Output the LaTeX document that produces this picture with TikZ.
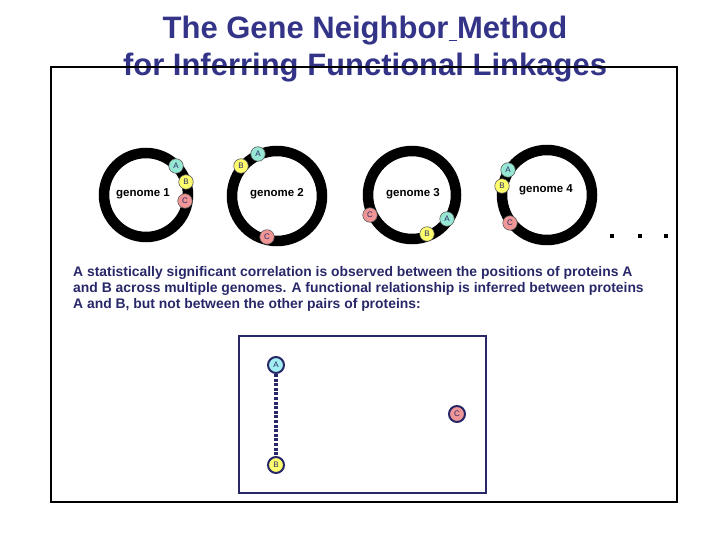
\documentclass[tikz,border=0pt]{standalone}
\usepackage{fontspec}
\setmainfont{Liberation Sans}
\definecolor{titre}{RGB}{51,51,136}
\definecolor{texte}{RGB}{40,40,105}
\definecolor{protA}{RGB}{150,232,212}
\definecolor{protAbis}{RGB}{160,238,240}
\definecolor{protB}{RGB}{255,255,110}
\definecolor{protC}{RGB}{240,150,150}
\begin{document}
\begin{tikzpicture}[x=1pt, y=-1pt,
    anneau/.style={draw, line width=10.5pt},
    genome/.style={font=\bfseries\fontsize{11.5}{12}\selectfont},
    gene/.style={circle, draw=black!65, line width=0.6pt, minimum size=14.5pt, inner sep=0pt,
                 font=\fontsize{8}{8}\selectfont, text=texte},
    lien/.style={circle, draw=texte, line width=2pt, minimum size=16pt, inner sep=0pt,
                 font=\fontsize{8}{8}\selectfont, text=texte}
]
    \useasboundingbox (0,0) rectangle (720,540);

    \node[font=\bfseries\fontsize{31}{31}\selectfont, text=titre, anchor=base] (titre1) at (365,39)
        {The Gene Neighbor\underline{\ }Method};
    \node[font=\bfseries\fontsize{31}{31}\selectfont, text=titre, anchor=base] (titre2) at (365,76)
        {for Inferring Functional Linkages};
    \draw[line width=2.5pt] (51,67) rectangle (677,502);

    % genomes circulaires
    \draw[anneau] (146,195) circle[radius=42pt];
    \draw[anneau] (277,196) circle[radius=45pt];
    \draw[anneau] (412,195) circle[radius=44pt];
    \draw[anneau] (547,195) circle[radius=45pt];
    \node[genome] (g1) at (143,194) {genome 1};
    \node[genome] (g2) at (277,194) {genome 2};
    \node[genome] (g3) at (413,194) {genome 3};
    \node[genome] (g4) at (546,190) {genome 4};

    \node[gene, fill=protA] (a1) at (176,166) {A};
    \node[gene, fill=protB] (b1) at (186,182) {B};
    \node[gene, fill=protC] (c1) at (185,201) {C};
    \node[gene, fill=protA] (a2) at (258,154) {A};
    \node[gene, fill=protB] (b2) at (241,166) {B};
    \node[gene, fill=protC] (c2) at (267,237) {C};
    \node[gene, fill=protA] (a3) at (447,219) {A};
    \node[gene, fill=protB] (b3) at (427,234) {B};
    \node[gene, fill=protC] (c3) at (370,215) {C};
    \node[gene, fill=protA] (a4) at (508,170) {A};
    \node[gene, fill=protB] (b4) at (502,186) {B};
    \node[gene, fill=protC] (c4) at (510,223) {C};

    \foreach \x in {612,640,666}
        \fill (\x-2,233.5) rectangle (\x+2,237.5);

    \node[anchor=north west, align=left, text=texte, inner sep=0pt,
          font=\bfseries\fontsize{13.9}{16}\selectfont] (expl) at (73,266)
        {A statistically significant correlation is observed between the positions of proteins A\\
         and B across multiple genomes.  A functional relationship is inferred between proteins\\
         A and B, but not between the other pairs of proteins:};

    % relations deduites
    \draw[texte, line width=2.5pt] (239,336) rectangle (486,493);
    \node[lien, fill=protAbis] (ra) at (276,365) {A};
    \node[lien, fill=protB] (rb) at (276,465) {B};
    \node[lien, fill=protC] (rc) at (457,414) {C};
    \draw[texte, line width=4pt, dash pattern=on 3pt off 1.6pt] (ra) -- (rb);
\end{tikzpicture}
\end{document}
